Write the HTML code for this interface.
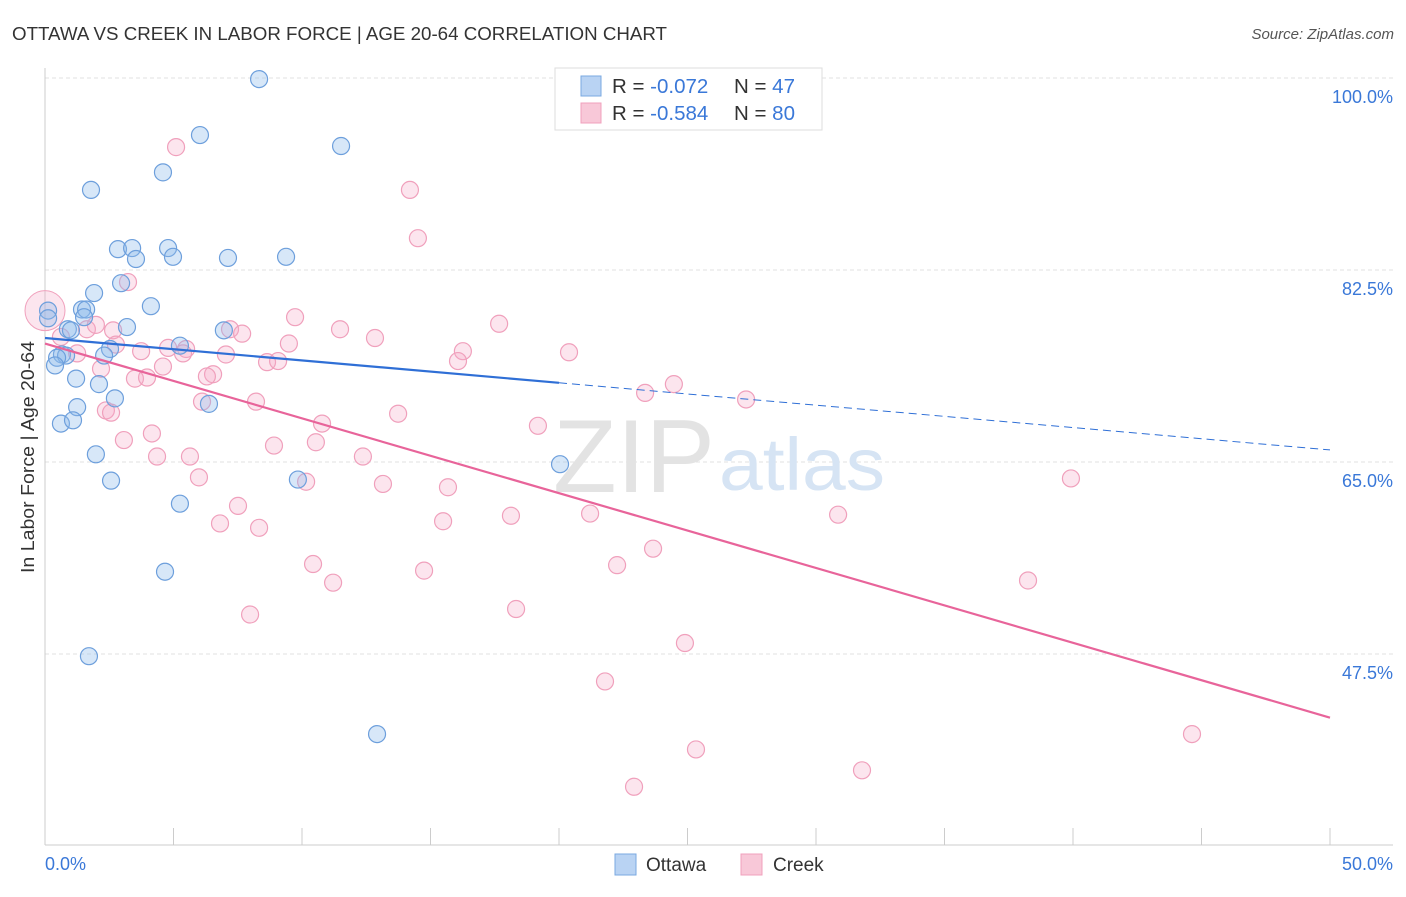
<!DOCTYPE html>
<html><head><meta charset="utf-8">
<style>
body{margin:0;background:#fff;font-family:"Liberation Sans",sans-serif;}
svg text{font-family:"Liberation Sans",sans-serif;}
</style></head>
<body>
<svg id="chart" width="1406" height="892">
<text x="12" y="40" font-size="18" fill="#333" textLength="655" lengthAdjust="spacingAndGlyphs">OTTAWA VS CREEK IN LABOR FORCE | AGE 20-64 CORRELATION CHART</text>
<text x="1394" y="39" font-size="15" fill="#555" font-style="italic" text-anchor="end">Source: ZipAtlas.com</text>
<text x="34" y="457" font-size="18" fill="#333" transform="rotate(-90 34 457)" text-anchor="middle" textLength="232" lengthAdjust="spacingAndGlyphs">In Labor Force | Age 20-64</text>
<g id="grid"></g>
<text x="553" y="492" font-size="104" fill="#e3e3e3" font-family="Liberation Serif" textLength="162" lengthAdjust="spacingAndGlyphs">ZIP</text>
<text x="719" y="490" font-size="74" fill="#d6e4f4" textLength="166" lengthAdjust="spacingAndGlyphs">atlas</text>
<g id="pts"></g>
<g id="lines"></g>
<g>
<rect x="555" y="68" width="267" height="62" fill="#fff" stroke="#ddd"/>
<rect x="581" y="76" width="20" height="20" fill="#b9d3f3" stroke="#7aa8e0"/>
<rect x="581" y="103" width="20" height="20" fill="#f8c8d8" stroke="#f0a0bc"/>
<text x="612" y="93" font-size="20.5" fill="#333">R = <tspan fill="#3a78d8">-0.072</tspan></text>
<text x="734" y="93" font-size="20.5" fill="#333">N = <tspan fill="#3a78d8">47</tspan></text>
<text x="612" y="120" font-size="20.5" fill="#333">R = <tspan fill="#3a78d8">-0.584</tspan></text>
<text x="734" y="120" font-size="20.5" fill="#333">N = <tspan fill="#3a78d8">80</tspan></text>
</g>
<g>
<rect x="615" y="854" width="21" height="21" fill="#b9d3f3" stroke="#7aa8e0"/>
<text x="646" y="871" font-size="19" fill="#333">Ottawa</text>
<rect x="741" y="854" width="21" height="21" fill="#f8c8d8" stroke="#f0a0bc"/>
<text x="773" y="871" font-size="19" fill="#333">Creek</text>
</g>
</svg>
<script>
const yTicks=[100,82.5,65,47.5];
const yTickLabels=["100.0%","82.5%","65.0%","47.5%"];
const xTickLabels=["0.0%","50.0%"];
const ottawaX=[8.33,6.03,11.52,4.59,1.79,2.84,3.39,4.79,3.54,4.98,7.12,9.38,2.96,1.91,4.12,1.44,1.60,0.12,1.52,0.12,3.19,0.89,1.01,6.96,5.25,2.53,0.66,0.82,0.47,2.30,0.39,1.21,2.10,2.72,6.38,1.25,0.62,1.09,1.98,20.04,2.57,9.84,5.25,4.67,1.71,12.92];
const ottawaY=[99.9,94.8,93.8,91.4,89.8,84.4,84.5,84.5,83.5,83.7,83.6,83.7,81.3,80.4,79.2,78.9,78.9,78.8,78.2,78.1,77.3,77.1,77.0,77.0,75.6,75.3,74.8,74.7,74.5,74.7,73.8,72.6,72.1,70.8,70.3,70.0,68.5,68.8,65.7,64.8,63.3,63.4,61.2,55.0,47.3,40.2];
const creekX=[5.10,14.20,14.51,3.23,9.73,17.67,11.48,7.20,7.67,1.63,1.98,2.65,0.62,12.84,9.49,2.76,3.74,4.79,5.49,5.37,1.25,7.04,20.39,16.26,16.07,8.64,9.07,4.59,2.18,3.50,3.97,6.54,6.30,23.35,24.47,27.28,8.21,6.11,13.74,2.37,2.57,10.78,19.18,4.16,3.07,8.91,10.54,4.36,5.64,12.37,5.99,10.16,13.15,15.68,39.92,7.51,21.21,18.13,30.86,6.81,15.49,8.33,23.66,22.26,10.43,14.75,11.21,38.25,18.33,7.98,24.90,21.79,25.33,44.63,31.79,22.92];
const creekY=[93.7,89.8,85.4,81.4,78.2,77.6,77.1,77.1,76.7,77.1,77.5,77.0,76.4,76.3,75.8,75.7,75.1,75.4,75.3,74.9,74.9,74.8,75.0,75.1,74.2,74.1,74.2,73.7,73.5,72.6,72.7,73.0,72.8,71.3,72.1,70.7,70.5,70.5,69.4,69.7,69.5,68.5,68.3,67.6,67.0,66.5,66.8,65.5,65.5,65.5,63.6,63.2,63.0,62.7,63.5,61.0,60.3,60.1,60.2,59.4,59.6,59.0,57.1,55.6,55.7,55.1,54.0,54.2,51.6,51.1,48.5,45.0,38.8,40.2,36.9,35.4];
const creekBig=[0,78.8];
const ottawaTrend=[76.3,66.1];
const creekTrend=[75.8,41.7];
const ottawaSolidEnd=20;

const NS="http://www.w3.org/2000/svg";
const X=v=>45+v/50*1285;
const Y=v=>78+(100-v)*192/17.5;
function mk(tag,attrs,parent){const e=document.createElementNS(NS,tag);for(const k in attrs)e.setAttribute(k,attrs[k]);parent.appendChild(e);return e;}
const grid=document.getElementById('grid');
yTicks.forEach((t,i)=>{
  const l=mk('line',{x1:45,x2:1393,y1:Y(t),y2:Y(t),stroke:'#e2e2e2','stroke-dasharray':'4,3'},grid);
  
  
  const tx=mk('text',{x:1393,y:Y(t)+25,'font-size':18,fill:'#3a78d8','text-anchor':'end'},grid);
  tx.textContent=yTickLabels[i];
  
  
});
const ax=mk('line',{x1:45,x2:45,y1:68,y2:845,stroke:'#ccc'},grid);


const bx=mk('line',{x1:45,x2:1393,y1:845,y2:845,stroke:'#ccc'},grid);


for(let i=0;i<=10;i++){
  const t=mk('line',{x1:X(i*5),x2:X(i*5),y1:828,y2:845,stroke:'#ccc'},grid);
  
  
}
[[0,'start',45],[50,'end',1393]].forEach((d,i)=>{
  const t=mk('text',{x:d[2],y:870,'font-size':18,fill:'#3a78d8','text-anchor':d[1]},grid);
  t.textContent=xTickLabels[i];
  
  
});
const pts=document.getElementById('pts');
const big=mk('circle',{cx:X(creekBig[0]),cy:Y(creekBig[1]),r:20,fill:'rgba(244,170,198,0.3)',stroke:'#f0a0bc'},pts);


creekX.forEach((x,i)=>{
  const c=mk('circle',{cx:X(x),cy:Y(creekY[i]),r:8.5,fill:'rgba(244,170,198,0.3)',stroke:'#f0a0bc','stroke-width':1.2},pts);
  
  
});
ottawaX.forEach((x,i)=>{
  const c=mk('circle',{cx:X(x),cy:Y(ottawaY[i]),r:8.5,fill:'rgba(140,185,235,0.35)',stroke:'#6d9fdc','stroke-width':1.2},pts);
  
  
});
const lines=document.getElementById('lines');
const oy=x=>ottawaTrend[0]+(ottawaTrend[1]-ottawaTrend[0])*x/50;
const l1=mk('line',{x1:X(0),y1:Y(oy(0)),x2:X(ottawaSolidEnd),y2:Y(oy(ottawaSolidEnd)),stroke:'#2f6fd6','stroke-width':2.2},lines);


const l2=mk('line',{x1:X(ottawaSolidEnd),y1:Y(oy(ottawaSolidEnd)),x2:X(50),y2:Y(oy(50)),stroke:'#2f6fd6','stroke-width':1,'stroke-dasharray':'8,5'},lines);


const l3=mk('line',{x1:X(0),y1:Y(creekTrend[0]),x2:X(50),y2:Y(creekTrend[1]),stroke:'#e8649a','stroke-width':2.2},lines);


</script>
</body></html>
